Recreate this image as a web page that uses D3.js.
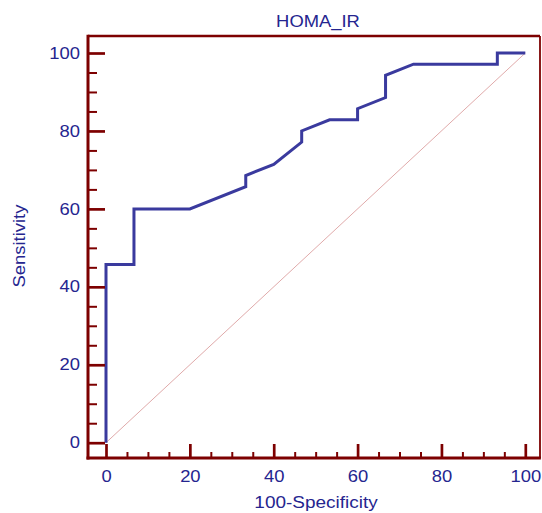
<!DOCTYPE html>
<html>
<head>
<meta charset="utf-8">
<script src="https://cdn.jsdelivr.net/npm/d3@7"></script>
<style>
  html, body { margin: 0; padding: 0; background: #ffffff; }
  svg { display: block; }
  text { font-family: "Liberation Sans", Arial, sans-serif; }
</style>
</head>
<body>
<svg id="chart" width="542" height="513"></svg>
<script>
// ---- data ----
const title = "HOMA_IR";
const xLabel = "100-Specificity";
const yLabel = "Sensitivity";
const specificity100 = [0, 0, 6.67, 6.67, 20, 33.33, 33.33, 40, 46.67, 46.67, 53.33, 60, 60, 66.67, 66.67, 73.33, 93.33, 93.33, 100];
const sensitivity    = [0, 45.71, 45.71, 60, 60, 65.71, 68.57, 71.43, 77.14, 80, 82.86, 82.86, 85.71, 88.57, 94.29, 97.14, 97.14, 100, 100];
const majorTicks = [0, 20, 40, 60, 80, 100];
const minorTicks = [5, 10, 15, 25, 30, 35, 45, 50, 55, 65, 70, 75, 85, 90, 95];
const diagonal = [0, 100];

// ---- styles ----
const frameColor = "#7d0000";
const textColor = "#25258f";
const curveColor = "#3a3a9e";
const diagColor = "#e0aaaa";
const stretch = "scale(1.15,1)";

const svg = d3.select("#chart");
const frame = { left: 88, right: 540, top: 36, bottom: 458 };

const x = d3.scaleLinear().domain([0, 100]).range([106, 525.3]);
const y = d3.scaleLinear().domain([0, 100]).range([442.7, 53]);

// diagonal reference line
svg.append("line")
  .attr("x1", x(diagonal[0])).attr("y1", y(diagonal[0]))
  .attr("x2", x(diagonal[1])).attr("y2", y(diagonal[1]))
  .attr("stroke", diagColor).attr("stroke-width", 1);

// ROC curve
const pts = specificity100.map((s, i) => [s, sensitivity[i]]);
svg.append("path")
  .datum(pts)
  .attr("d", d3.line().x(d => x(d[0])).y(d => y(d[1])))
  .attr("fill", "none")
  .attr("stroke", curveColor)
  .attr("stroke-width", 3)
  .attr("stroke-linejoin", "miter");

// axes: major ticks
const yAxis = svg.append("g").attr("transform", `translate(${frame.left},0)`)
  .call(d3.axisLeft(y).tickValues(majorTicks).tickSize(-17).tickPadding(7));
const yMinor = svg.append("g").attr("transform", `translate(${frame.left},0)`)
  .call(d3.axisLeft(y).tickValues(minorTicks).tickSize(-9).tickFormat(""));
const xAxis = svg.append("g").attr("transform", `translate(0,${frame.bottom})`)
  .call(d3.axisBottom(x).tickValues(majorTicks).tickSize(-14).tickPadding(13));
const xMinor = svg.append("g").attr("transform", `translate(0,${frame.bottom})`)
  .call(d3.axisBottom(x).tickValues(minorTicks).tickSize(-6).tickFormat(""));

[yAxis, yMinor, xAxis, xMinor].forEach(g => {
  g.select(".domain").remove();
  g.selectAll(".tick line").attr("stroke", frameColor);
  g.selectAll(".tick text")
    .attr("fill", textColor)
    .style("font-size", "16px")
    .style("font-family", "'Liberation Sans', Arial, sans-serif")
    .attr("transform", stretch);
});
[yAxis, xAxis].forEach(g => g.selectAll(".tick line").attr("stroke-width", 2.7));
[yMinor, xMinor].forEach(g => g.selectAll(".tick line").attr("stroke-width", 2));

// frame
svg.append("line").attr("x1", frame.left).attr("x2", frame.right)
  .attr("y1", frame.top).attr("y2", frame.top)
  .attr("stroke", frameColor).attr("stroke-width", 2.6);
svg.append("line").attr("x1", frame.right).attr("x2", frame.right)
  .attr("y1", frame.top).attr("y2", frame.bottom)
  .attr("stroke", frameColor).attr("stroke-width", 1.8);
svg.append("line").attr("x1", frame.left).attr("x2", frame.left)
  .attr("y1", frame.top - 1.3).attr("y2", frame.bottom + 1.5)
  .attr("stroke", frameColor).attr("stroke-width", 3);
svg.append("line").attr("x1", frame.left - 1.5).attr("x2", frame.right + 0.9)
  .attr("y1", frame.bottom).attr("y2", frame.bottom)
  .attr("stroke", frameColor).attr("stroke-width", 3);

// title and axis labels
svg.append("text")
  .attr("transform", `translate(318,27.3) ${stretch}`)
  .attr("text-anchor", "middle")
  .attr("fill", textColor)
  .style("font-size", "16px")
  .text(title);

svg.append("text")
  .attr("transform", `translate(316,507.5) ${stretch}`)
  .attr("text-anchor", "middle")
  .attr("fill", textColor)
  .style("font-size", "16.5px")
  .text(xLabel);

svg.append("text")
  .attr("transform", `translate(24.5,246) rotate(-90) ${stretch}`)
  .attr("text-anchor", "middle")
  .attr("fill", textColor)
  .style("font-size", "16px")
  .text(yLabel);
</script>
</body>
</html>
